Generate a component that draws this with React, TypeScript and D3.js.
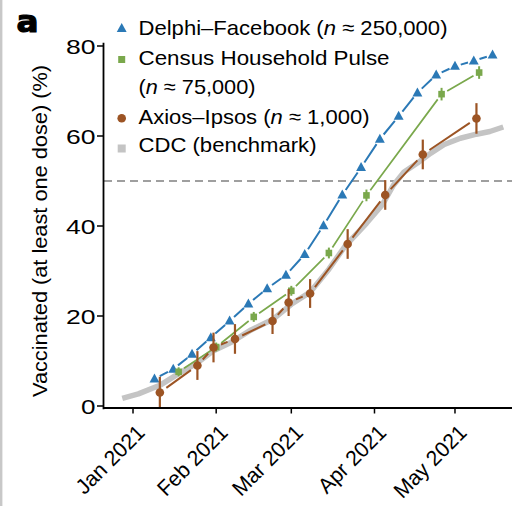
import React from "react";
import * as d3 from "d3";

// ---------- data ----------
const delphiDates = ["2021-01-09","2021-01-16","2021-01-23","2021-01-30","2021-02-06","2021-02-13","2021-02-20","2021-02-27","2021-03-06","2021-03-13","2021-03-20","2021-03-27","2021-04-03","2021-04-10","2021-04-17","2021-04-24","2021-05-01","2021-05-08","2021-05-15"];
const delphiValues = [6.0, 8.2, 11.5, 15.2, 18.9, 22.7, 26.1, 29.1, 33.7, 40.1, 46.9, 53.0, 59.3, 64.4, 69.6, 73.6, 75.5, 76.7, 78.0];

const censusDates = ["2021-01-18","2021-02-01","2021-02-15","2021-03-01","2021-03-15","2021-03-29","2021-04-26","2021-05-10"];
const censusValues = [7.6, 13.1, 19.8, 25.6, 34.0, 46.8, 69.3, 74.1];
const censusErr = [1.0, 1.0, 1.1, 1.1, 1.2, 1.3, 1.4, 1.4];

const axiosDates = ["2021-01-11","2021-01-25","2021-01-31","2021-02-08","2021-02-22","2021-02-28","2021-03-08","2021-03-22","2021-04-05","2021-04-19","2021-05-09"];
const axiosValues = [3.0, 9.0, 13.0, 14.9, 18.9, 23.0, 25.0, 36.0, 46.9, 55.9, 63.9];
const axiosErr = [3.5, 3.2, 3.3, 3.3, 2.9, 3.0, 3.2, 3.3, 3.3, 3.3, 3.4];

const cdcDates = ["2020-12-28","2021-01-03","2021-01-11","2021-01-18","2021-01-25","2021-01-31","2021-02-07","2021-02-14","2021-02-22","2021-03-01","2021-03-08","2021-03-15","2021-03-21","2021-03-29","2021-04-04","2021-04-08","2021-04-12","2021-04-17","2021-04-22","2021-04-27","2021-05-03","2021-05-09","2021-05-14","2021-05-19"];
const cdcValues = [1.7, 2.7, 4.6, 7.2, 9.6, 12.3, 14.3, 16.9, 19.2, 22.6, 25.3, 30.4, 35.5, 40.6, 44.8, 49.0, 52.0, 54.0, 56.2, 58.1, 59.5, 60.4, 61.0, 62.0];

const yTicks = [0, 20, 40, 60, 80];
const xTickDates = ["2021-01-01","2021-02-01","2021-03-01","2021-04-01","2021-05-01"];
const xTickLabels = ["Jan 2021","Feb 2021","Mar 2021","Apr 2021","May 2021"];
const threshold = 50;

// ---------- style ----------
const BLUE = "#2b79b6";
const GREEN = "#7aa84c";
const BROWN = "#9c5424";
const GRAY = "#c4c4c4";
const FONT = "'Liberation Sans', Arial, Helvetica, sans-serif";
const xLabelLen = [87, 89.5, 89.5, 86, 92.5];
const legendLen = [309, 251, 117, 231, 178];

const W = 512, H = 506;
const x = d3.scaleUtc()
  .domain([new Date("2020-12-21T04:30:00Z"), new Date("2021-05-22T06:00:00Z")])
  .range([104, 512]);
const y = d3.scaleLinear().domain([-0.5, 80.7]).range([408.25, 42.85]);

type P = [number, number];
function pts(dates: string[], vals: number[]): P[] {
  return dates.map((d, i) => [x(new Date(d)), y(vals[i])]);
}
function gappedPath(p: P[], gap: number): string {
  let s = "";
  for (let i = 0; i < p.length - 1; i++) {
    const [x0, y0] = p[i], [x1, y1] = p[i + 1];
    const dx = x1 - x0, dy = y1 - y0;
    const len = Math.hypot(dx, dy);
    if (len <= 2 * gap) continue;
    const ux = dx / len, uy = dy / len;
    s += `M${x0 + ux * gap},${y0 + uy * gap}L${x1 - ux * gap},${y1 - uy * gap}`;
  }
  return s;
}
const tri = (cx: number, cy: number, s: number) =>
  `M${cx},${cy - s * 0.6}L${cx + s * 0.55},${cy + s * 0.4}L${cx - s * 0.55},${cy + s * 0.4}Z`;

export default function App() {
  const dP = pts(delphiDates, delphiValues);
  const cP = pts(censusDates, censusValues);
  const aP = pts(axiosDates, axiosValues);
  const cdcLine = d3.line<number>()
    .x((_, i) => x(new Date(cdcDates[i])))
    .y((v) => y(v))(cdcValues) as string;
  const LA = "spacingAndGlyphs";

  return (
    <svg width={W} height={H} style={{ position: "absolute", left: 0, top: 0, background: "#fff" }} fontFamily={FONT}>
      <rect x={0} y={0} width={W} height={H} fill="#fff" />
      <line x1={1.2} x2={1.2} y1={0} y2={H} stroke="#c8c8c8" strokeWidth={2.4} />

      {/* panel label */}
      <text x={16.5} y={31.7} fontSize={30} fontWeight={900} stroke="#000" strokeWidth={1.2}
        fontFamily="'DejaVu Sans', sans-serif" textLength={22} lengthAdjust={LA}>a</text>

      {/* threshold */}
      <line x1={104} x2={512} y1={y(threshold)} y2={y(threshold)} stroke="#808080" strokeWidth={1.6} strokeDasharray="8,5" />

      {/* CDC */}
      <path d={cdcLine} fill="none" stroke={GRAY} strokeWidth={5.5} strokeLinejoin="round" />

      {/* Delphi */}
      <path d={gappedPath(dP, 6)} fill="none" stroke={BLUE} strokeWidth={2} />
      {dP.map(([cx, cy], i) => <path key={"d" + i} d={tri(cx, cy, 9)} fill={BLUE} />)}

      {/* Census */}
      <path d={gappedPath(cP, 6.5)} fill="none" stroke={GREEN} strokeWidth={1.7} />
      {cP.map(([cx, cy], i) => (
        <g key={"c" + i}>
          <line x1={cx} x2={cx} y1={y(censusValues[i] - censusErr[i])} y2={y(censusValues[i] + censusErr[i])} stroke={GREEN} strokeWidth={2} />
          <rect x={cx - 3.3} y={cy - 3.3} width={6.6} height={6.6} fill={GREEN} />
        </g>
      ))}

      {/* Axios */}
      <path d={gappedPath(aP, 8)} fill="none" stroke={BROWN} strokeWidth={2} />
      {aP.map(([cx, cy], i) => (
        <g key={"a" + i}>
          <line x1={cx} x2={cx} y1={y(axiosValues[i] - axiosErr[i])} y2={y(axiosValues[i] + axiosErr[i])} stroke={BROWN} strokeWidth={2.2} />
          <circle cx={cx} cy={cy} r={4.3} fill={BROWN} />
        </g>
      ))}

      {/* axes */}
      <line x1={103.5} x2={103.5} y1={y(80.7)} y2={y(-0.5) + 1} stroke="#000" strokeWidth={1.8} />
      <line x1={103.5} x2={512} y1={408} y2={408} stroke="#000" strokeWidth={1.8} />
      {yTicks.map((t) => (
        <g key={"yt" + t}>
          <line x1={97} x2={103.5} y1={y(t)} y2={y(t)} stroke="#000" strokeWidth={1.5} />
          <text x={95.5} y={y(t)} dy="0.36em" textAnchor="end" fontSize={21}
            textLength={String(t).length === 1 ? 14.5 : 29.5} lengthAdjust={LA}>{t}</text>
        </g>
      ))}
      {xTickDates.map((d, i) => {
        const tx = x(new Date(d));
        return (
          <g key={"xt" + i}>
            <line x1={tx} x2={tx} y1={408} y2={413.5} stroke="#000" strokeWidth={1.5} />
            <text transform={`translate(${tx + 13},${434}) rotate(-45)`} textAnchor="end" fontSize={21.5}
              textLength={xLabelLen[i]} lengthAdjust={LA}>{xTickLabels[i]}</text>
          </g>
        );
      })}
      <text transform={`translate(46.5,231) rotate(-90)`} textAnchor="middle" fontSize={21}
        textLength={332} lengthAdjust={LA}>Vaccinated (at least one dose) (%)</text>

      {/* legend */}
      <path d={tri(121.7, 28.5, 9)} fill={BLUE} />
      <text x={138.5} y={34.5} fontSize={21} textLength={legendLen[0]} lengthAdjust={LA}>Delphi–Facebook (<tspan fontStyle="italic">n</tspan> ≈ 250,000)</text>
      <rect x={118.2} y={56} width={7} height={7} fill={GREEN} />
      <text x={138.5} y={65} fontSize={21} textLength={legendLen[1]} lengthAdjust={LA}>Census Household Pulse</text>
      <text x={138.5} y={94} fontSize={21} textLength={legendLen[2]} lengthAdjust={LA}>(<tspan fontStyle="italic">n</tspan> ≈ 75,000)</text>
      <circle cx={121.7} cy={118.3} r={4.3} fill={BROWN} />
      <text x={138.5} y={123.5} fontSize={21} textLength={legendLen[3]} lengthAdjust={LA}>Axios–Ipsos (<tspan fontStyle="italic">n</tspan> ≈ 1,000)</text>
      <rect x={117.7} y={144.5} width={8} height={8} fill={GRAY} />
      <text x={138.5} y={152} fontSize={21} textLength={legendLen[4]} lengthAdjust={LA}>CDC (benchmark)</text>
    </svg>
  );
}
